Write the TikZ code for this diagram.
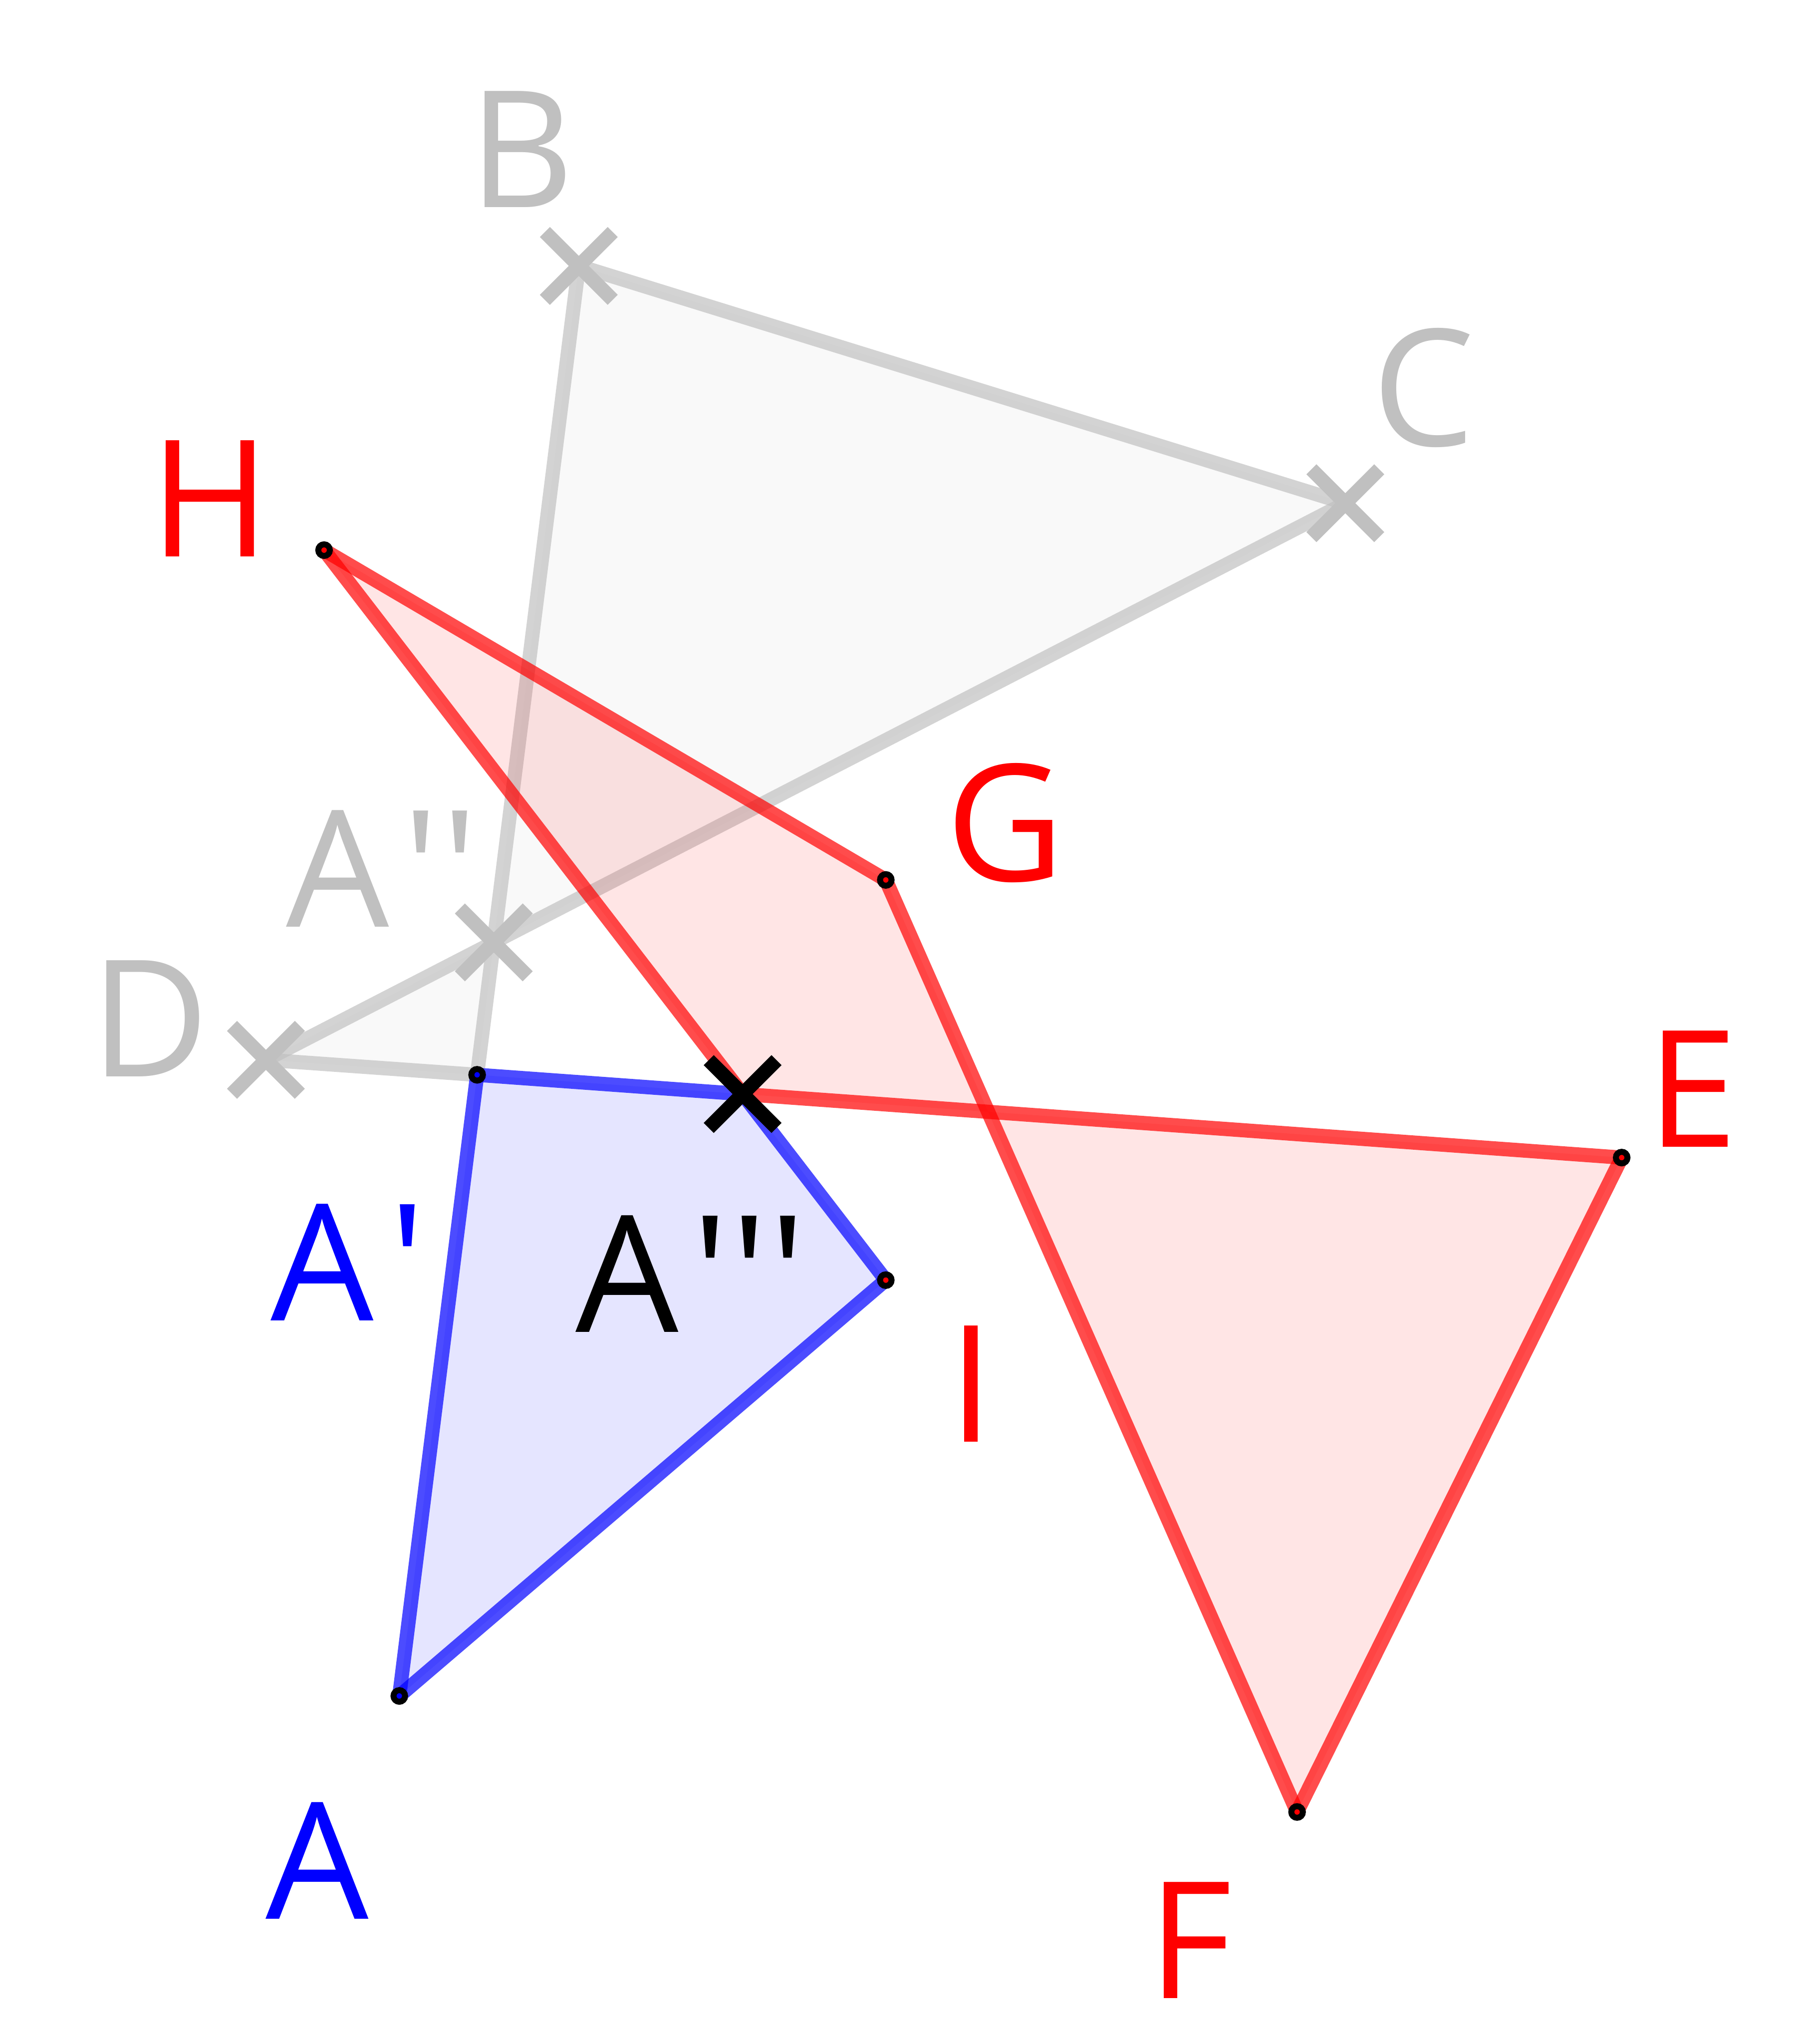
\documentclass[tikz,border=0pt]{standalone}
\usepackage{fontspec}
\setmainfont{Open Sans}[Ligatures=TeXOff]
\usetikzlibrary{shapes.misc}
\definecolor{silver}{RGB}{192,192,192}
\newcommand{\tk}{\kern0.6pt'}
\tikzset{
  gedge/.style = {draw=silver, draw opacity=0.7, line width=3.1pt},
  redge/.style = {draw=red, draw opacity=0.7, line width=3.1pt},
  bedge/.style = {draw=blue, draw opacity=0.7, line width=3.1pt},
  xmark/.style = {cross out, draw=#1, line width=3.1pt, minimum size=0.52cm,
                  inner sep=0pt, outer sep=0pt},
  rdot/.style  = {circle, draw=black, fill=red, line width=1.3pt,
                  minimum size=0.089cm, inner sep=0pt},
  bdot/.style  = {rdot, fill=blue},
  lbl/.style   = {font=\fontsize{35.5}{40}\selectfont, inner sep=0pt, anchor=base}
}
\begin{document}
\begin{tikzpicture}[x=0.01cm, y=-0.01cm]
  \useasboundingbox (0,0) rectangle (1386,1568);
  \coordinate (B)  at (444,204);
  \coordinate (C)  at (1032,386);
  \coordinate (D)  at (204,813);
  \coordinate (A1) at (366,824.5);
  \coordinate (H)  at (248.6,422);
  \coordinate (G)  at (679.5,675);
  \coordinate (E)  at (1244,888);
  \coordinate (F)  at (995,1390);
  \coordinate (I)  at (679.5,982);
  \coordinate (A)  at (306.3,1301);
  \coordinate (A2) at (intersection of B--A1 and C--D);
  \coordinate (A3) at (intersection of H--I and A1--E);

  \fill[silver, fill opacity=0.1] (B) -- (C) -- (D) -- (A1) -- cycle;
  \draw[gedge] (B) -- (C);
  \draw[gedge] (C) -- (D);
  \draw[gedge] (D) -- (A1);
  \draw[gedge] (A1) -- (B);

  \fill[red, fill opacity=0.1] (H) -- (G) -- (F) -- (E) -- (A3) -- cycle;
  \fill[blue, fill opacity=0.1] (A1) -- (A3) -- (I) -- (A) -- cycle;
  \draw[redge] (H) -- (G);
  \draw[redge] (G) -- (F);
  \draw[redge] (F) -- (E);
  \draw[redge] (E) -- (A3);
  \draw[redge] (A3) -- (H);
  \draw[bedge] (A1) -- (A3);
  \draw[bedge] (A3) -- (I);
  \draw[bedge] (I) -- (A);
  \draw[bedge] (A) -- (A1);

  \node[xmark=silver] (xB)  at (B)  {};
  \node[xmark=silver] (xC)  at (C)  {};
  \node[xmark=silver] (xD)  at (D)  {};
  \node[xmark=silver] (xA2) at (A2) {};
  \node[xmark=black]  (xA3) at (A3) {};

  \node[rdot] (dH)  at (H)  {};
  \node[rdot] (dG)  at (G)  {};
  \node[rdot] (dE)  at (E)  {};
  \node[rdot] (dF)  at (F)  {};
  \node[rdot] (dI)  at (I)  {};
  \node[bdot] (dA1) at (A1) {};
  \node[bdot] (dA)  at (A)  {};

  \node[lbl, text=silver] (lB)  at (400,159)  {B};
  \node[lbl, text=silver] (lC)  at (1092,342) {C};
  \node[lbl, text=silver] (lD)  at (115,826)  {D};
  \node[lbl, text=silver, anchor=base west] (lA2) at (219,711) {A\kern3pt'\tk};
  \node[lbl, text=red]    (lH)  at (161,427)  {H};
  \node[lbl, text=red]    (lG)  at (771,676)  {G};
  \node[lbl, text=red]    (lE)  at (1298,880) {E};
  \node[lbl, text=red]    (lI)  at (745,1106) {I};
  \node[lbl, text=red]    (lF)  at (913,1533) {F};
  \node[lbl, text=blue, anchor=base west]  (lA1) at (207,1013) {A\kern3.5pt'};
  \node[lbl, text=black, anchor=base west] (lA3) at (441,1022) {A\kern3pt'\tk\tk};
  \node[lbl, text=blue, anchor=base west]  (lA)  at (203,1472) {A};
\end{tikzpicture}
\end{document}
